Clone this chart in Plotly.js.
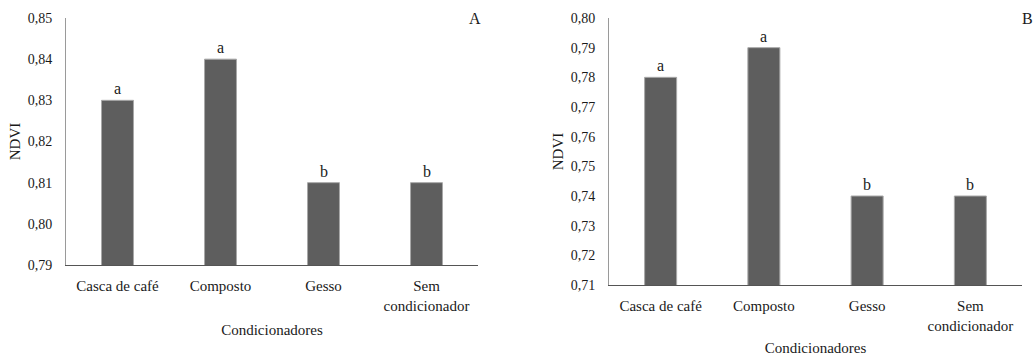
<!DOCTYPE html>
<html>
<head>
<meta charset="utf-8">
<script src="https://cdn.plot.ly/plotly-3.0.1.min.js"></script>
<style>
  html, body { margin: 0; padding: 0; background: #ffffff; }
  #chart { width: 1035px; height: 356px; }
</style>
</head>
<body>
<div id="chart"></div>
<script>
// Soil conditioners compared on NDVI, two sampling panels (A and B)
const categories = ["Casca de café", "Composto", "Gesso", "Sem condicionador"];
const tickLabels = ["Casca de café", "Composto", "Gesso", "Sem<br>condicionador"];

const ndviA = [0.83, 0.84, 0.81, 0.81];
const lettersA = ["a", "a", "b", "b"];

const ndviB = [0.78, 0.79, 0.74, 0.74];
const lettersB = ["a", "a", "b", "b"];

const panelNames = ["A", "B"];

const W = 1035, H = 356;
const FONT = "Liberation Serif, Times New Roman, serif";
const BAR = "#5e5e5e";
const BAR_EDGE = "#a8a8a8";
const XLINE = "#555555";
const YLINE = "#9a9a9a";
const INK = "#1a1a1a";

const traces = [
  { type: "bar", x: categories, y: ndviA, xaxis: "x", yaxis: "y",
    marker: { color: BAR, line: { color: BAR_EDGE, width: 1 } }, hoverinfo: "x+y" },
  { type: "bar", x: categories, y: ndviB, xaxis: "x2", yaxis: "y2",
    marker: { color: BAR, line: { color: BAR_EDGE, width: 1 } }, hoverinfo: "x+y" }
];

function xAxis(domain, anchor, standoff) {
  return {
    domain: domain, anchor: anchor,
    type: "category",
    tickmode: "array", tickvals: categories, ticktext: tickLabels,
    showline: true, linecolor: XLINE, linewidth: 1,
    ticks: "", showgrid: false, zeroline: false,
    ticklabelstandoff: 7,
    tickfont: { family: FONT, size: 15, color: INK },
    title: { text: "Condicionadores", standoff: standoff,
             font: { family: FONT, size: 15, color: INK } }
  };
}
function yAxis(domain, anchor, range) {
  return {
    domain: domain, anchor: anchor,
    range: range, dtick: 0.01, tick0: range[0], tickformat: ".2f",
    showline: true, linecolor: YLINE, linewidth: 1,
    ticks: "", showgrid: false, zeroline: false,
    ticklabelstandoff: 10,
    tickfont: { family: FONT, size: 14, color: INK },
    title: { text: "NDVI", standoff: 3,
             font: { family: FONT, size: 15, color: INK } }
  };
}

const annotations = [];
function addLetters(vals, letters, xref, yref) {
  vals.forEach((v, i) => {
    annotations.push({
      x: categories[i], y: v, xref: xref, yref: yref,
      text: letters[i], showarrow: false,
      yanchor: "bottom", yshift: 1,
      font: { family: FONT, size: 16, color: INK }
    });
  });
}
addLetters(ndviA, lettersA, "x", "y");
addLetters(ndviB, lettersB, "x2", "y2");

annotations.push({ x: 475 / W, y: 1 - 19 / H, xref: "paper", yref: "paper",
  text: panelNames[0], showarrow: false, xanchor: "center", yanchor: "middle",
  font: { family: FONT, size: 16, color: INK } });
annotations.push({ x: 1027 / W, y: 1 - 19 / H, xref: "paper", yref: "paper",
  text: panelNames[1], showarrow: false, xanchor: "center", yanchor: "middle",
  font: { family: FONT, size: 16, color: INK } });

const layout = {
  width: W, height: H,
  margin: { l: 0, r: 0, t: 0, b: 0 },
  font: { family: FONT, size: 14, color: INK },
  paper_bgcolor: "#ffffff", plot_bgcolor: "#ffffff",
  separators: ", ",
  showlegend: false,
  bargap: 0.69,
  xaxis: xAxis([66 / W, 478 / W], "y", 11),
  yaxis: yAxis([1 - 265 / H, 1 - 18 / H], "x", [0.79, 0.85]),
  xaxis2: xAxis([609 / W, 1022 / W], "y2", 12),
  yaxis2: yAxis([1 - 285 / H, 1 - 18 / H], "x2", [0.71, 0.80]),
  annotations: annotations
};

Plotly.newPlot("chart", traces, layout, { displayModeBar: false, staticPlot: true });
</script>
</body>
</html>
